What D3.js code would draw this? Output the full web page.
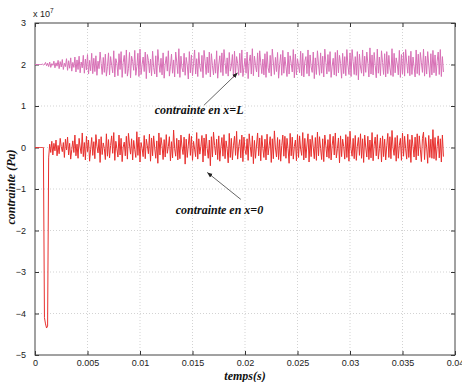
<!DOCTYPE html>
<html><head><meta charset="utf-8">
<script src="https://cdn.jsdelivr.net/npm/d3@7/dist/d3.min.js"></script>
<style>body{margin:0;background:#fff}svg{display:block}</style>
</head><body>
<script>
// time axis: uniform sampling step (s)
const tStep = 0.0001;
const xTicks = [0, 0.005, 0.01, 0.015, 0.02, 0.025, 0.03, 0.035, 0.04];
const xTickLabels = ["0","0.005","0.01","0.015","0.02","0.025","0.03","0.035","0.04"];
const yTicks = [-5,-4,-3,-2,-1,0,1,2,3];
const yTickLabels = ["\u22125","\u22124","\u22123","\u22122","\u22121","0","1","2","3"];
// contrainte en x=L (units of 1e7 Pa)
const stressL = [
2,2,2,2,2,2,2,2.01,1.99,2,
2.05,1.97,2.03,1.95,2.06,1.93,2.02,1.98,2.08,1.92,
2.04,1.96,2.1,1.9,2.07,1.94,2.12,1.88,2.03,1.95,
2.14,1.86,2.09,1.91,2.16,1.84,2.05,1.93,2.18,1.82,
2.11,1.88,2.2,1.8,2.06,1.92,2.22,1.79,2.13,1.87,
2.24,1.77,2.1,1.85,2.27,1.78,2.15,1.83,2.21,1.74,
2.08,1.9,2.3,2.02,1.76,2.17,1.81,2.25,1.72,1.95,
2.28,1.75,2.19,1.98,1.8,2.33,1.7,2.14,2.03,1.73,
2.26,1.88,2.31,1.69,2.05,2.22,1.78,2.35,1.72,1.9,
2.29,1.68,2.2,2.07,1.86,2.34,1.74,1.95,2.27,1.71,
2.37,1.76,2.0,2.18,1.83,2.3,1.66,2.24,2.1,1.8,
2.13,1.73,2.32,1.93,1.77,2.21,1.7,2.36,2.04,1.81,
2.15,1.75,2.28,1.67,2.01,2.19,1.84,2.33,1.72,1.96,
2.25,1.79,2.11,1.7,2.3,2.06,1.78,2.38,1.69,2.2,
1.92,1.82,2.27,1.74,2.17,1.99,1.65,2.31,1.8,2.23,
1.73,2.03,2.35,1.77,2.14,1.71,2.29,1.94,1.83,2.22,
1.68,2.34,2.08,1.76,2.18,1.8,2.3,1.7,2.26,1.97,
1.75,2.12,1.79,2.33,1.67,2.0,2.21,1.81,2.28,1.73,
2.36,2.05,1.78,2.16,1.72,2.29,1.84,1.96,2.24,1.69,
2.32,1.76,2.19,2.02,1.74,2.27,1.8,2.35,1.71,1.93,
2.15,1.79,2.3,1.66,2.07,2.23,1.77,2.38,1.73,2.2,
1.98,1.82,2.28,1.7,2.33,2.04,1.78,2.13,1.75,2.26,
1.69,2.31,1.92,1.8,2.22,1.72,2.37,2.06,1.76,2.17,
1.83,2.29,1.67,2.0,2.24,1.74,2.34,1.79,2.18,1.95,
1.71,2.3,1.77,2.21,2.03,1.82,2.36,1.68,2.25,1.75,
2.14,1.97,1.8,2.32,1.73,2.27,1.7,2.08,2.19,1.78,
2.35,1.72,2.23,1.94,1.81,2.3,1.66,2.16,1.76,2.33,
2.01,1.74,2.28,1.79,2.2,1.7,2.37,2.05,1.77,2.24,
1.83,2.31,1.69,1.96,2.15,1.75,2.29,1.72,2.34,1.8,
2.22,2.02,1.67,2.27,1.78,2.19,1.73,2.36,1.99,1.76,
2.28,1.71,2.36,2.07,1.76,2.19,1.74,2.31,1.63,2.25,
1.94,1.79,2.35,1.72,2.2,1.81,2.3,2.03,1.7,2.4,
1.77,2.23,1.75,2.29,1.98,1.68,2.37,1.79,2.18,1.73,
2.33,2.05,1.76,2.26,1.7,2.31,1.78,2.22,1.92,1.74,
2.38,1.71,2.27,1.8,2.16,2.01,1.75,2.34,1.69,2.24,
1.77,2.3,1.72,2.36,2.06,1.79,2.21,1.73,2.32,1.76,
2.18,1.95,1.7,2.35,1.78,2.25,1.74,2.29,2.04,1.81,
2.37,1.72,2.2,1.77,2.31,1.99,1.69,2.26,1.75,2.34,
1.8,2.23,1.73,2.08,2.3,1.76,2.36,1.71,2.19,1.82
];
// contrainte en x=0 (units of 1e7 Pa)
const stress0 = [
0,0,0,0,0,0,0,0,0,-4.1,
-4.25,-4.35,-4.3,-0.25,0.08,-0.12,0.15,-0.18,0.1,-0.08,
0.18,-0.2,0.05,-0.15,0.22,0.02,-0.1,0.12,-0.24,0.2,
-0.06,0.25,-0.18,0.1,-0.28,-0.05,0.16,-0.12,0.3,-0.2,
0.08,-0.26,0.22,0.0,-0.15,0.35,-0.22,0.12,-0.3,0.27,
-0.1,0.18,-0.33,-0.04,0.24,-0.19,0.14,-0.27,0.31,0.03,
-0.13,0.2,-0.36,0.26,-0.17,0.11,-0.02,-0.29,0.33,-0.21,
0.19,-0.25,0.05,0.28,-0.14,0.36,-0.31,0.15,-0.03,-0.23,
0.3,-0.18,0.22,-0.34,0.01,0.13,-0.2,0.27,-0.28,0.34,
0.06,-0.16,0.21,-0.3,0.17,-0.05,-0.24,0.38,-0.19,0.25,
-0.35,0.12,-0.02,-0.22,0.29,-0.27,0.2,0.04,-0.15,0.32,
-0.33,0.23,-0.2,0.28,-0.01,-0.26,0.16,-0.38,0.35,-0.18,
0.24,0.05,-0.29,0.19,-0.23,0.31,-0.14,0.02,0.26,-0.32,
0.14,-0.25,0.42,-0.03,-0.21,0.22,-0.3,0.18,-0.27,0.3,
0.01,-0.17,0.25,-0.4,0.2,-0.24,0.06,0.33,-0.19,0.27,
-0.31,0.15,-0.04,-0.22,0.36,-0.28,0.21,-0.16,0.03,0.29,
-0.35,0.23,-0.2,0.32,-0.02,-0.26,0.18,-0.44,0.26,-0.23,
0.37,0.05,-0.18,0.2,-0.29,0.28,-0.33,0.01,0.24,-0.21,
0.31,-0.27,0.16,-0.03,-0.37,0.34,-0.24,0.22,-0.3,0.04,
0.27,-0.19,0.39,-0.28,0.02,0.19,-0.25,0.3,-0.34,0.25,
-0.05,-0.17,0.21,-0.31,0.33,0.03,-0.22,0.28,-0.39,0.17,
-0.26,0.06,0.35,-0.2,0.23,-0.32,0.29,-0.02,-0.24,0.2,
-0.3,0.32,-0.18,0.04,0.26,-0.36,0.21,-0.27,0.4,-0.01,
-0.23,0.24,-0.29,0.19,-0.33,0.05,0.3,-0.21,0.27,-0.26,
0.22,-0.03,-0.38,0.34,-0.2,0.25,-0.28,0.02,0.18,-0.32,
0.31,-0.24,0.28,-0.04,-0.19,0.36,-0.3,0.22,-0.25,0.06,
0.33,-0.35,0.2,-0.22,0.29,0.01,-0.27,0.24,-0.31,0.37,
-0.2,0.26,-0.02,-0.29,0.21,-0.34,0.3,0.04,-0.23,0.19,
-0.26,0.32,-0.3,0.05,0.27,-0.18,0.35,-0.25,-0.03,0.23,
-0.37,0.28,-0.22,0.2,0.02,-0.28,0.31,-0.24,0.26,-0.33,
0.39,-0.04,-0.21,0.22,-0.27,0.29,-0.31,0.03,0.24,-0.19,
0.33,-0.26,0.21,-0.36,0.3,0.0,-0.23,0.27,-0.29,0.18,
-0.25,0.36,-0.32,0.06,0.25,-0.2,0.31,-0.28,-0.02,0.23,
-0.35,0.28,-0.22,0.2,-0.3,0.04,0.34,-0.24,0.26,-0.27,
0.41,-0.01,-0.19,0.24,-0.33,0.29,-0.26,0.05,0.22,-0.31,
0.35,-0.21,0.27,-0.03,-0.28,0.32,-0.24,0.19,-0.36,0.3,
0.02,-0.23,0.25,-0.3,0.33,-0.2,0.28,-0.04,-0.34,0.22,
0.37,-0.29,0.24,0.01,-0.38,0.29,-0.24,0.2,-0.26,0.43,
-0.27,0.24,-0.31,0.03,0.28,-0.25,0.21,-0.35,0.3,-0.22
];
const annotations = [
  {text:"contrainte en x=L", tx:0.0114, ty:0.8, ax0:0.0161, ay0:1.02, ax1:0.0193, ay1:1.8},
  {text:"contrainte en x=0", tx:0.0134, ty:-1.6, ax0:0.0196, ay0:-1.25, ax1:0.0164, ay1:-0.6}
];

const W = 462, H = 382;
const m = {left:35, top:23, right:7, bottom:27};
const svg = d3.select("body").append("svg").attr("width", W).attr("height", H);
const x = d3.scaleLinear().domain([0, 0.04]).range([m.left, W - m.right]);
const y = d3.scaleLinear().domain([-5, 3]).range([H - m.bottom, m.top]);

// grid
const grid = svg.append("g").attr("stroke", "#c8c8c8").attr("stroke-width", 0.8).attr("stroke-dasharray", "1,2");
grid.selectAll(".gx").data(xTicks.slice(1, -1)).join("line")
  .attr("x1", d => x(d)).attr("x2", d => x(d)).attr("y1", y(3)).attr("y2", y(-5));
grid.selectAll(".gy").data(yTicks.slice(1, -1)).join("line")
  .attr("y1", d => y(d)).attr("y2", d => y(d)).attr("x1", x(0)).attr("x2", x(0.04));

const tfont = "Liberation Sans, Arial, sans-serif";
function styleAxis(g){
  g.select(".domain").remove();
  g.selectAll(".tick line").attr("stroke", "#333");
  g.selectAll("text").attr("font-family", tfont).attr("font-size", 9).attr("fill", "#222");
}
const xb = d3.axisBottom(x).tickValues(xTicks).tickSize(-4).tickPadding(5).tickFormat((d,i) => xTickLabels[i]);
svg.append("g").attr("transform", `translate(0,${y(-5)})`).call(xb).call(styleAxis);
svg.append("g").attr("transform", `translate(0,${y(3)})`).call(d3.axisTop(x).tickValues(xTicks).tickSize(-4).tickFormat("")).call(styleAxis);
const yl = d3.axisLeft(y).tickValues(yTicks).tickSize(-4).tickPadding(9).tickFormat((d,i) => yTickLabels[i]);
svg.append("g").attr("transform", `translate(${x(0)},0)`).call(yl).call(styleAxis);
svg.append("g").attr("transform", `translate(${x(0.04)},0)`).call(d3.axisRight(y).tickValues(yTicks).tickSize(-4).tickFormat("")).call(styleAxis);

// box
svg.append("rect").attr("x", x(0)).attr("y", y(3)).attr("width", x(0.04) - x(0)).attr("height", y(-5) - y(3))
  .attr("fill", "none").attr("stroke", "#444").attr("stroke-width", 1);

// series
const line = d3.line().x((d,i) => x(i * tStep)).y(d => y(d));
svg.append("path").datum(stressL).attr("d", line).attr("fill", "none").attr("stroke", "#d870b6").attr("stroke-width", 1);
svg.append("path").datum(stress0).attr("d", line).attr("fill", "none").attr("stroke", "#e8302e").attr("stroke-width", 1);

// exponent
const ex = svg.append("text").attr("x", x(0) - 2).attr("y", y(3) - 6).attr("font-family", tfont).attr("font-size", 9).attr("fill", "#222");
ex.append("tspan").text("x 10");
ex.append("tspan").attr("dy", -4).attr("font-size", 6.5).text("7");

// axis labels
const lfont = "Liberation Serif, 'DejaVu Serif', serif";
svg.append("text").attr("x", 245).attr("y", 380).attr("text-anchor", "middle")
  .attr("font-family", lfont).attr("font-weight", "bold").attr("font-style", "italic").attr("font-size", 12).attr("fill", "#111").text("temps(s)");
svg.append("text").attr("transform", `translate(15,${(y(3)+y(-5))/2 - 2}) rotate(-90)`).attr("text-anchor", "middle")
  .attr("font-family", lfont).attr("font-weight", "bold").attr("font-style", "italic").attr("font-size", 12).attr("fill", "#111").text("contrainte (Pa)");

// annotations
const defs = svg.append("defs");
defs.append("marker").attr("id", "ah").attr("viewBox", "0 0 10 10").attr("refX", 10).attr("refY", 5)
  .attr("markerWidth", 6).attr("markerHeight", 6).attr("orient", "auto")
  .append("path").attr("d", "M0,1 L10,5 L0,9 Z").attr("fill", "#222");
annotations.forEach(a => {
  svg.append("line").attr("x1", x(a.ax0)).attr("y1", y(a.ay0)).attr("x2", x(a.ax1)).attr("y2", y(a.ay1))
    .attr("stroke", "#555").attr("stroke-width", 0.9).attr("marker-end", "url(#ah)");
  svg.append("text").attr("x", x(a.tx)).attr("y", y(a.ty)).attr("font-family", lfont).attr("font-weight", "bold")
    .attr("font-style", "italic").attr("font-size", 12).attr("fill", "#111").text(a.text);
});
</script>
</body></html>
